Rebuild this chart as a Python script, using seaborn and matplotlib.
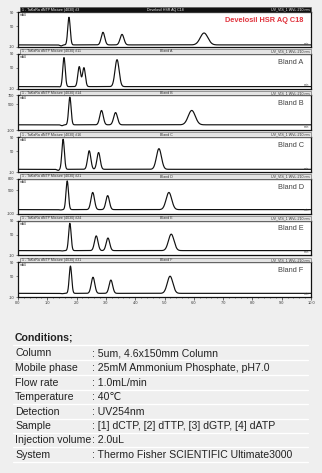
import numpy as np
import pandas as pd
import matplotlib
matplotlib.use("Agg")
import matplotlib.pyplot as plt
from matplotlib.patches import Rectangle
from matplotlib.ticker import MultipleLocator
import seaborn as sns

sns.set_style("white")
plt.rcParams['font.family'] = ['Liberation Sans', 'DejaVu Sans']

W, H = 322, 473
BG = '#efefef'

# panel labels
panel_names = ['Develosil HSR AQ C18', 'Bland A', 'Bland B', 'Bland C', 'Bland D', 'Bland E', 'Bland F']
run_ids = ['#3', '#11', '#14', '#16', '#21', '#24', '#31']

# y ranges (mAU) and tick labels per panel
y_low = [-10, -10, -100, -10, -100, -10, -10]
y_high = [90, 90, 700, 90, 800, 90, 90]
y_mid = [50, 50, 500, 50, 500, 50, 50]
baselines = [-4, -4, 28, -2, 8, 4, 1]

# retention times (min) of dCTP, dTTP, dGTP, dATP
rt_dctp = [1.74, 1.57, 1.77, 1.54, 1.68, 1.77, 1.79]
rt_dttp = [2.90, 2.09, 2.85, 2.43, 2.55, 2.67, 2.56]
rt_dgtp = [3.55, 2.25, 3.33, 2.75, 3.06, 3.07, 3.17]
rt_datp = [6.35, 3.38, 5.93, 4.81, 5.15, 5.23, 5.19]

# apex signal (mAU)
top_dctp = [75, 79, 660, 84, 746, 82, 79]
top_dttp = [32, 53, 356, 51, 449, 46, 47]
top_dgtp = [26, 50, 308, 46, 368, 40, 39]
top_datp = [30, 73, 356, 57, 449, 51, 50]

# peak widths (sigma, min)
w_dctp = [0.042, 0.042, 0.042, 0.042, 0.042, 0.042, 0.042]
w_dttp = [0.06, 0.048, 0.06, 0.055, 0.06, 0.06, 0.06]
w_dgtp = [0.065, 0.048, 0.065, 0.055, 0.06, 0.06, 0.06]
w_datp = [0.13, 0.07, 0.12, 0.085, 0.095, 0.095, 0.095]

# injection dip before first peak
dip_rt = [1.47, 1.45, 1.50, 1.37, 1.45, 1.50, 1.50]
dip_depth = [-3, -1, -20, -3, -10, -1, -1]

x_ticks = [0.0, 1.0, 2.0, 3.0, 4.0, 5.0, 6.0, 7.0, 8.0, 9.0, 10.0]

cond_labels = ['Column', 'Mobile phase', 'Flow rate', 'Temperature', 'Detection',
               'Sample', 'Injection volume', 'System']
cond_values = [': 5um, 4.6x150mm Column', ': 25mM Ammonium Phosphate, pH7.0',
               ': 1.0mL/min', ': 40\u2103', ': UV254nm',
               ': [1] dCTP, [2] dTTP, [3] dGTP, [4] dATP', ': 2.0uL',
               ': Thermo Fisher SCIENTIFIC Ultimate3000']


def trace(i):
    t = np.linspace(0, 10, 2001)
    s = np.full_like(t, float(baselines[i]))
    peaks = [(rt_dctp[i], top_dctp[i], w_dctp[i]), (rt_dttp[i], top_dttp[i], w_dttp[i]),
             (rt_dgtp[i], top_dgtp[i], w_dgtp[i]), (rt_datp[i], top_datp[i], w_datp[i])]
    for rt, top, w in peaks:
        s += (top - baselines[i]) * np.exp(-0.5 * ((t - rt) / w) ** 2)
    s += dip_depth[i] * np.exp(-0.5 * ((t - dip_rt[i]) / 0.04) ** 2)
    return pd.DataFrame({'min': t, 'mAU': s})


fig = plt.figure(figsize=(W / 100, H / 100), dpi=100)
fig.patch.set_facecolor(BG)

left, right = 18, 311
box_h = 35
step = 41.7
for i in range(7):
    top = 12 + step * i
    ax = fig.add_axes([left / W, 1 - (top + box_h) / H, (right - left) / W, box_h / H])
    ax.set_facecolor('white')
    sns.lineplot(data=trace(i), x='min', y='mAU', ax=ax, color='#111111', lw=0.85)
    ax.set_xlim(0, 10)
    ax.set_ylim(y_low[i], y_high[i])
    ax.set_yticks([y_low[i], y_mid[i], y_high[i]])
    ax.set_yticklabels([str(y_low[i]), str(y_mid[i]), str(y_high[i])])
    ax.tick_params(axis='y', labelsize=2.8, length=1.5, width=0.4, pad=1, left=True, colors='#333333')
    ax.set_xlabel('')
    ax.set_ylabel('')
    for sp in ax.spines.values():
        sp.set_linewidth(0.9)
        sp.set_color('#111111')
    if i < 6:
        ax.set_xticks([])
    else:
        ax.set_xticks(x_ticks)
        ax.set_xticklabels([f'{v:.1f}' for v in x_ticks])
        ax.xaxis.set_minor_locator(MultipleLocator(0.2))
        ax.tick_params(axis='x', which='major', labelsize=2.8, length=2, width=0.5, pad=1,
                       bottom=True, colors='#333333')
        ax.tick_params(axis='x', which='minor', length=1, width=0.4, bottom=True)
    ax.text(0.005, 0.97, 'mAU', transform=ax.transAxes, fontsize=2.3, va='top', ha='left', color='#333333')
    ax.text(0.995, 0.04, 'min', transform=ax.transAxes, fontsize=2.3, va='bottom', ha='right', color='#333333')
    if i == 0:
        ax.text(0.975, 0.76, panel_names[i], transform=ax.transAxes, fontsize=5.3, color='#e0323c',
                ha='right', va='center', fontweight='bold')
    else:
        ax.text(0.975, 0.76, panel_names[i], transform=ax.transAxes, fontsize=5.3, color='#444444',
                ha='right', va='center')

    # header strip above the panel
    dark = i == 0
    fig.patches.append(Rectangle(((left + 2) / W, 1 - top / H), (right - left - 2) / W, 4.6 / H,
                                 transform=fig.transFigure, facecolor='#111111' if dark else '#e4e4e4',
                                 edgecolor='#555555', linewidth=0.4))
    hc = '#f4f4f4' if dark else '#333333'
    hy = 1 - (top - 2.3) / H
    fig.text((left + 4) / W, hy, f'1 - TaKaRa dNTP Mixture (4030) {run_ids[i]}', fontsize=2.6,
             color=hc, va='center', ha='left')
    fig.text((147 if dark else 160) / W, hy, panel_names[i], fontsize=2.6, color=hc, va='center', ha='left')
    fig.text((right - 1) / W, hy, 'UV_VIS_1 WVL:210 nm', fontsize=2.6, color=hc, va='center', ha='right')

# conditions table
fig.text(15 / W, 1 - 337 / H, 'Conditions;', fontsize=7.6, fontweight='bold', color='#222222', va='center')
row_y = [353, 368, 383, 397, 412, 426, 440, 455]
fig.add_artist(plt.Line2D([13 / W, 308 / W], [1 - 345 / H] * 2, color='white', lw=0.9))
for lab, val, y in zip(cond_labels, cond_values, row_y):
    fig.text(15 / W, 1 - y / H, lab, fontsize=7.6, color='#222222', va='center')
    fig.text(92 / W, 1 - y / H, val, fontsize=7.6, color='#222222', va='center')
    fig.add_artist(plt.Line2D([13 / W, 308 / W], [1 - (y + 7.2) / H] * 2, color='white', lw=0.9))

fig.savefig('out.png', dpi=100, facecolor=BG)
